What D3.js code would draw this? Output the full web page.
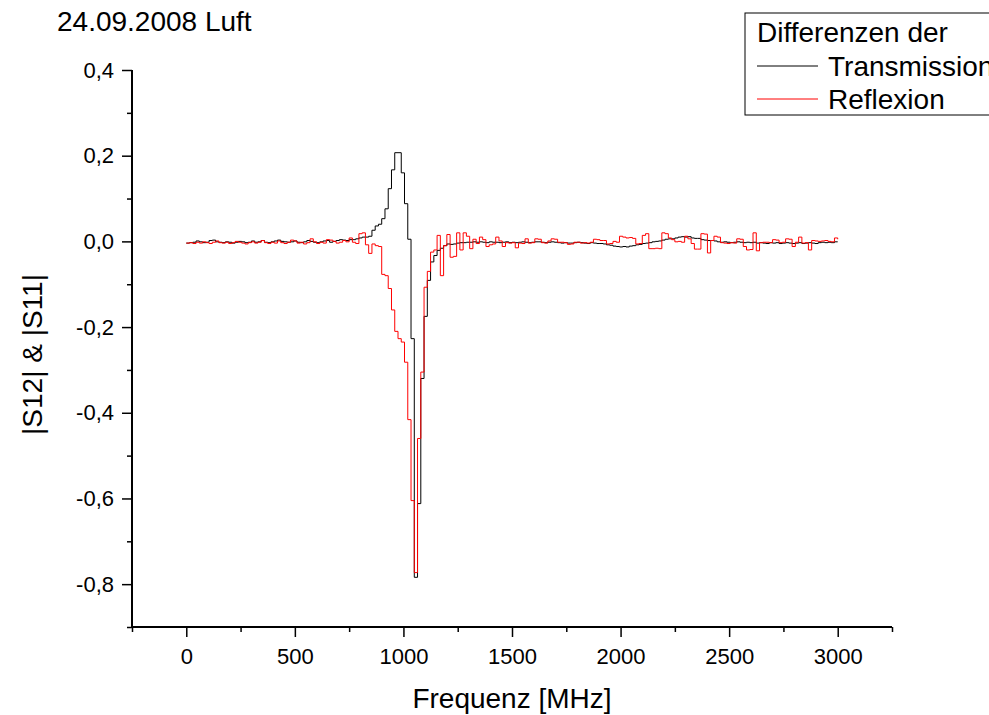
<!DOCTYPE html>
<html><head><meta charset="utf-8">
<script src="https://cdn.jsdelivr.net/npm/d3@7"></script>
<style>
html,body{margin:0;padding:0;background:#fff;}
svg{display:block;font-family:"Liberation Sans",Arial,sans-serif;}
</style></head>
<body>
<svg id="chart" width="989" height="715"></svg>
<script>
// ---- data ----
const title = "24.09.2008 Luft";
const xLabel = "Frequenz [MHz]";
const yLabel = "|S12| & |S11|";
const legendTitle = "Differenzen der";
const seriesNames = ["Transmission", "Reflexion"];
const seriesColors = ["#000000", "#ff0000"];
const freqStart = 0, freqStepMHz = 15; // 201 points, 0..3000 MHz
const xMajorTicks = [0, 500, 1000, 1500, 2000, 2500, 3000];
const xMinorTicks = [-250, 250, 750, 1250, 1750, 2250, 2750, 3250];
const yMajorTicks = [0.4, 0.2, 0.0, -0.2, -0.4, -0.6, -0.8];
const yMinorTicks = [0.3, 0.1, -0.1, -0.3, -0.5, -0.7, -0.9];

const transmission = [
-0.004,-0.003,-0.002,0.001,-0.001,-0.003,-0.002,0.002,0.003,-0.001,
-0.002,-0.003,-0.001,-0.002,-0.004,-0.002,0.000,-0.001,-0.003,-0.002,
0.001,-0.002,-0.001,0.002,-0.002,-0.003,-0.001,0.001,0.003,0.000,
-0.001,-0.002,-0.001,0.001,-0.002,-0.003,-0.001,0.002,0.000,-0.002,
-0.003,-0.001,0.001,0.002,-0.002,0.000,0.002,0.004,0.003,0.002,
0.004,0.004,0.006,0.008,0.010,0.010,0.012,0.026,0.036,0.040,
0.053,0.076,0.123,0.167,0.207,0.207,0.160,0.088,0.005,-0.227,
-0.784,-0.612,-0.320,-0.175,-0.091,-0.048,-0.033,-0.021,-0.016,-0.010,
-0.006,-0.007,-0.006,-0.004,-0.003,-0.003,-0.002,-0.002,-0.001,-0.002,
-0.001,-0.002,-0.003,-0.001,-0.002,-0.002,-0.003,-0.002,-0.001,-0.003,
-0.002,-0.003,-0.002,-0.001,-0.002,-0.003,-0.002,-0.001,-0.001,-0.002,
-0.003,-0.002,-0.001,-0.002,-0.003,-0.004,-0.003,-0.004,-0.004,-0.003,
-0.002,-0.003,-0.004,-0.005,-0.003,-0.004,-0.005,-0.005,-0.006,-0.008,
-0.009,-0.011,-0.012,-0.013,-0.012,-0.013,-0.011,-0.010,-0.008,-0.007,
-0.005,-0.004,-0.003,-0.001,0.000,0.001,0.003,0.005,0.006,0.006,
0.008,0.010,0.011,0.010,0.011,0.008,0.007,0.007,0.004,0.003,
0.002,0.002,0.001,-0.001,-0.002,-0.001,-0.002,-0.003,-0.002,-0.001,
-0.002,-0.003,-0.002,-0.003,-0.002,-0.004,-0.003,-0.004,-0.005,-0.003,
-0.004,-0.003,-0.005,-0.004,-0.003,-0.004,-0.005,-0.004,-0.003,-0.005,
-0.004,-0.003,-0.004,-0.005,-0.003,-0.002,-0.003,-0.002,-0.003,-0.001,
-0.001];

const reflexion = [
-0.004,-0.003,-0.005,-0.002,-0.004,-0.001,-0.003,-0.005,-0.002,0.001,
-0.003,-0.004,-0.002,-0.005,-0.003,0.000,-0.002,-0.004,-0.006,-0.003,
-0.001,-0.004,-0.002,0.002,-0.003,-0.005,-0.002,-0.004,0.001,-0.003,
-0.005,-0.002,0.003,0.001,-0.004,-0.002,-0.006,-0.003,0.006,-0.001,
-0.005,-0.002,-0.004,0.004,0.003,0.000,-0.004,-0.002,0.002,-0.001,
0.008,-0.002,-0.005,0.018,0.020,-0.008,-0.028,-0.006,-0.010,-0.012,
-0.077,-0.080,-0.110,-0.160,-0.210,-0.227,-0.235,-0.282,-0.416,-0.605,
-0.773,-0.460,-0.305,-0.107,-0.070,-0.025,-0.020,0.014,-0.080,-0.010,
0.016,-0.037,-0.035,0.020,-0.020,0.020,0.012,-0.017,0.005,-0.005,
0.010,0.004,-0.012,-0.008,-0.006,0.010,0.001,-0.012,-0.003,-0.004,
-0.003,-0.015,-0.004,-0.005,0.006,-0.004,-0.003,0.006,0.005,-0.003,
-0.004,0.001,0.006,0.005,-0.002,-0.002,-0.003,-0.007,-0.006,-0.002,
-0.002,-0.004,-0.003,-0.004,-0.002,0.005,0.004,0.002,0.002,-0.006,
-0.005,0.000,-0.002,0.012,0.010,0.008,0.009,0.007,-0.006,-0.005,
0.014,0.018,-0.017,-0.017,-0.016,-0.017,0.020,0.018,0.008,0.004,
-0.001,0.000,-0.002,0.012,0.006,-0.005,-0.018,-0.018,0.018,0.017,
-0.027,0.002,0.012,0.010,-0.003,-0.004,-0.005,-0.003,-0.004,0.006,
0.005,-0.012,-0.020,-0.019,0.020,-0.022,-0.003,-0.002,-0.002,-0.003,
0.004,0.003,-0.003,-0.002,0.006,0.005,-0.012,-0.002,0.010,-0.004,
-0.003,-0.020,0.002,0.001,0.000,0.001,0.002,0.000,-0.001,0.008,
0.005];

// ---- chart ----
const svg = d3.select("#chart");
const pLeft = 132, pRight = 892, pTop = 70, pBottom = 627;
const x = d3.scaleLinear().domain([-250, 3250]).range([pLeft, pRight]);
const y = d3.scaleLinear().domain([-0.9, 0.4]).range([pBottom, pTop]);
const fmtY = v => d3.format(".1f")(v).replace("\u2212", "-").replace(".", ",");

function seriesPoints(vals) {
  return vals.map((v, i) => ({f: freqStart + i * freqStepMHz, v}));
}
const line = d3.line().x(d => x(d.f)).y(d => y(d.v)).curve(d3.curveStepAfter);

[transmission, reflexion].forEach((vals, k) => {
  svg.append("path").datum(seriesPoints(vals))
    .attr("d", line).attr("fill", "none")
    .attr("stroke", seriesColors[k]).attr("stroke-width", 1);
});

// x axis
const gx = svg.append("g").attr("transform", `translate(0,${pBottom})`);
gx.call(d3.axisBottom(x).tickValues(xMajorTicks).tickSize(10).tickPadding(11).tickFormat(d3.format("d")));
const gxm = svg.append("g").attr("transform", `translate(0,${pBottom})`);
gxm.call(d3.axisBottom(x).tickValues(xMinorTicks).tickSize(5).tickFormat(""));
// y axis
const gy = svg.append("g").attr("transform", `translate(${pLeft},0)`);
gy.call(d3.axisLeft(y).tickValues(yMajorTicks).tickSize(10).tickPadding(8).tickFormat(fmtY));
const gym = svg.append("g").attr("transform", `translate(${pLeft},0)`);
gym.call(d3.axisLeft(y).tickValues(yMinorTicks).tickSize(5).tickFormat(""));

svg.selectAll(".domain").attr("stroke", "#000").attr("stroke-width", 2);
svg.selectAll(".tick line").attr("stroke", "#000").attr("stroke-width", 1.5);
svg.selectAll(".tick text").attr("font-family", "Liberation Sans, Arial, sans-serif")
  .attr("font-size", 22).attr("fill", "#000");
gx.select(".domain").attr("d", `M${pLeft},0H${pRight}`);
gxm.select(".domain").remove();
gy.select(".domain").attr("d", `M0,${pTop}V${pBottom}`);
gym.select(".domain").remove();

// titles
svg.append("text").attr("x", 57).attr("y", 31).attr("font-size", 28).text(title);
svg.append("text").attr("x", (pLeft + pRight) / 2).attr("y", 708)
  .attr("text-anchor", "middle").attr("font-size", 28).text(xLabel);
svg.append("text").attr("transform", `translate(42,${(pTop + pBottom) / 2 + 6}) rotate(-90)`)
  .attr("text-anchor", "middle").attr("font-size", 28).text(yLabel);

// legend
const lg = svg.append("g");
lg.append("rect").attr("x", 745).attr("y", 13).attr("width", 260).attr("height", 102)
  .attr("fill", "#fff").attr("stroke", "#000").attr("stroke-width", 1);
lg.append("text").attr("x", 757).attr("y", 42).attr("font-size", 28).text(legendTitle);
const legY = [66, 99];
seriesNames.forEach((n, k) => {
  lg.append("line").attr("x1", 757).attr("x2", 818).attr("y1", legY[k]).attr("y2", legY[k])
    .attr("stroke", seriesColors[k]).attr("stroke-width", 1);
  lg.append("text").attr("x", 828).attr("y", legY[k] + 10).attr("font-size", 28).text(n);
});
</script>
</body></html>
